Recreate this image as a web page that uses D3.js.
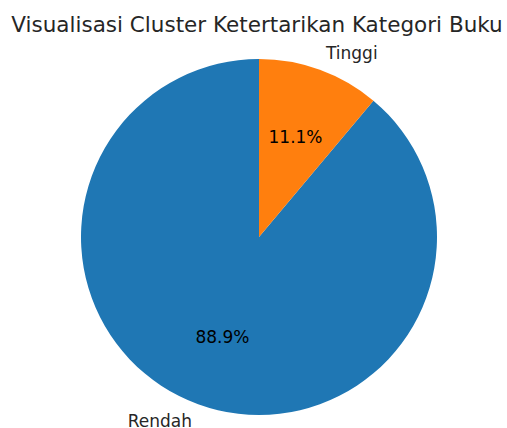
<!DOCTYPE html>
<html>
<head>
<meta charset="utf-8">
<script src="https://cdn.jsdelivr.net/npm/d3@7"></script>
<style>
  body { margin: 0; background: #fff; }
  text { font-family: "DejaVu Sans", sans-serif; fill: #262626; }
</style>
</head>
<body>
<div id="wrapper"></div>
<script>
const labels = ["Rendah", "Tinggi"]
const values = [8, 1]
const colors = ["#1f77b4", "#ff7f0e"]
const title = "Visualisasi Cluster Ketertarikan Kategori Buku"

const width = 507
const height = 428
const cx = 259
const cy = 237
const radius = 178

const svg = d3.select("#wrapper")
  .append("svg")
    .attr("width", width)
    .attr("height", height)

const dataset = labels.map((l, i) => ({ label: l, value: values[i], color: colors[i] }))
const total = d3.sum(values)

// matplotlib style: start at top, go counterclockwise
const pie = d3.pie()
  .value(d => d.value)
  .sort(null)
  .startAngle(0)
  .endAngle(-2 * Math.PI)

const arcs = pie(dataset)
const arcGen = d3.arc().innerRadius(0).outerRadius(radius)

const g = svg.append("g")
    .attr("transform", `translate(${cx}, ${cy})`)

g.selectAll(".slice")
  .data(arcs)
  .enter().append("path")
    .attr("class", "slice")
    .attr("d", arcGen)
    .attr("fill", d => d.data.color)

const mid = d => (d.startAngle + d.endAngle) / 2

g.selectAll(".label")
  .data(arcs)
  .enter().append("text")
    .attr("class", "label")
    .attr("x", d => Math.sin(mid(d)) * radius * 1.1)
    .attr("y", d => -Math.cos(mid(d)) * radius * 1.1)
    .attr("dy", "0.35em")
    .attr("text-anchor", d => Math.sin(mid(d)) > 0 ? "start" : "end")
    .style("font-size", "17px")
    .text(d => d.data.label)

g.selectAll(".pct")
  .data(arcs)
  .enter().append("text")
    .attr("class", "pct")
    .attr("x", d => Math.sin(mid(d)) * radius * 0.6)
    .attr("y", d => -Math.cos(mid(d)) * radius * 0.6)
    .attr("dy", "0.35em")
    .attr("text-anchor", "middle")
    .style("font-size", "17px")
    .style("fill", "#000")
    .text(d => (d.data.value / total * 100).toFixed(1) + "%")

svg.append("text")
    .attr("x", 257)
    .attr("y", 32)
    .attr("text-anchor", "middle")
    .style("font-size", "21.5px")
    .text(title)
</script>
</body>
</html>
